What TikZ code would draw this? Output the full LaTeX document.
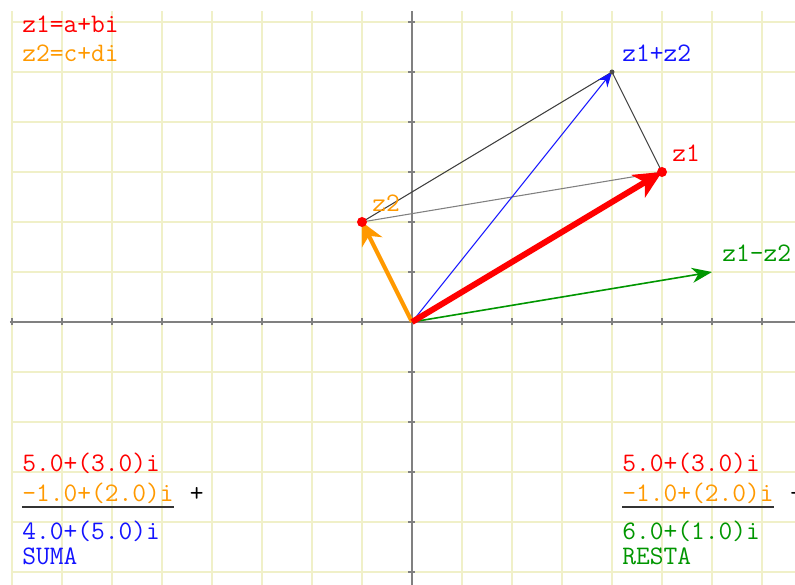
\documentclass[tikz,border=0pt]{standalone}
\usetikzlibrary{arrows.meta}
\definecolor{gridcol}{RGB}{240,240,200}
\definecolor{axiscol}{RGB}{128,128,128}
\definecolor{zred}{RGB}{255,0,0}
\definecolor{zorange}{RGB}{255,153,0}
\definecolor{zblue}{RGB}{20,20,255}
\definecolor{zgreen}{RGB}{0,150,0}
\tikzset{
  txt/.style={font=\ttfamily\fontsize{15.2}{18}\selectfont, inner sep=0pt, anchor=base west},
  gridline/.style={color=gridcol, line width=0.6pt},
  axisline/.style={color=axiscol, line width=1.2pt},
  side/.style={line width=0.6pt},
  dot/.style={circle, fill, inner sep=0pt, minimum size=#1},
}
\begin{document}
\begin{tikzpicture}[scale=1.0]
	\useasboundingbox (-8.24,-5.26) rectangle (7.66,6.44);
	\clip (-8.24,-5.26) rectangle (7.66,6.44);
	% grid, one line per unit
	\foreach \x in {-8,...,7}
		\draw[gridline] (\x,-5.26) -- (\x,6.22);
	\foreach \y in {-5,...,6}
		\draw[gridline] (-8,\y) -- (7.66,\y);
	% axes with ticks
	\draw[axisline] (-8.04,0) -- (7.66,0);
	\draw[axisline] (0,-5.26) -- (0,6.22);
	\foreach \x in {-8,...,7}
		\draw[color=axiscol, line width=0.6pt] (\x,-0.07) -- (\x,0.07);
	\foreach \y in {-5,...,6}
		\draw[color=axiscol, line width=0.6pt] (-0.07,\y) -- (0.07,\y);
	% points
	\coordinate (O) at (0,0);
	\coordinate (z1) at (5,3);
	\coordinate (z2) at (-1,2);
	\coordinate (zs) at (4,5);
	\coordinate (zd) at (6,1);
	% parallelogram sides
	\draw[side, color=black!75] (z2) -- (zs);
	\draw[side, color=black!75] (z1) -- (zs);
	\draw[side, color=black!50] (z2) -- (z1);
	% z1+z2 and z1-z2
	\draw[color=zblue, line width=0.6pt, -{Stealth[length=0.3cm, width=0.24cm, inset=0.1cm]}] (O) -- (zs);
	\draw[color=zgreen, line width=0.9pt, -{Stealth[length=0.4cm, width=0.3cm, inset=0.12cm]}] (O) -- (zd);
	% z1 and z2
	\draw[color=zorange, line width=2.3pt, -{Stealth[length=0.45cm, width=0.45cm, inset=0.14cm]}] (O) -- (z2);
	\draw[color=zred, line width=3.4pt, -{Stealth[length=0.55cm, width=0.52cm, inset=0.15cm]}] (O) -- (z1);
	\node[dot=0.2cm, color=zred] (pz1) at (z1) {};
	\node[dot=0.2cm, color=zred] (pz2) at (z2) {};
	\node[dot=0.1cm, color=black!70] (pzs) at (zs) {};
	% labels
	\node[txt, color=zred] (lz1) at ([shift={(0.2,0.2)}]z1) {z1};
	\node[txt, color=zorange] (lz2) at ([shift={(0.2,0.2)}]z2) {z2};
	\node[txt, color=zblue] (lzs) at ([shift={(0.2,0.2)}]zs) {z1+z2};
	\node[txt, color=zgreen] (lzd) at ([shift={(0.2,0.2)}]zd) {z1-z2};
	\node[txt, color=zred] (defA) at (-7.8,5.78) {z1=a+bi};
	\node[txt, color=zorange] (defB) at (-7.8,5.2) {z2=c+di};
	% sum
	\node[txt, color=zred] (sumA) at (-7.8,-3.0) {5.0+(3.0)i};
	\node[txt, color=zorange] (sumB) at (-7.8,-3.6) {-1.0+(2.0)i};
	\node[txt] (sumOp) at (-4.45,-3.6) {+};
	\draw[line width=1.1pt, color=black!80] ([yshift=-0.1cm]sumB.base west) -- ([yshift=-0.1cm]sumB.base east);
	\node[txt, color=zblue] (sumC) at (-7.8,-4.36) {4.0+(5.0)i};
	\node[txt, color=zblue] (sumT) at (-7.8,-4.86) {SUMA};
	% difference
	\node[txt, color=zred] (difA) at (4.2,-3.0) {5.0+(3.0)i};
	\node[txt, color=zorange] (difB) at (4.2,-3.6) {-1.0+(2.0)i};
	\node[txt] (difOp) at (7.55,-3.6) {-};
	\draw[line width=1.1pt, color=black!80] ([yshift=-0.1cm]difB.base west) -- ([yshift=-0.1cm]difB.base east);
	\node[txt, color=zgreen] (difC) at (4.2,-4.36) {6.0+(1.0)i};
	\node[txt, color=zgreen] (difT) at (4.2,-4.86) {RESTA};
\end{tikzpicture}
\end{document}
